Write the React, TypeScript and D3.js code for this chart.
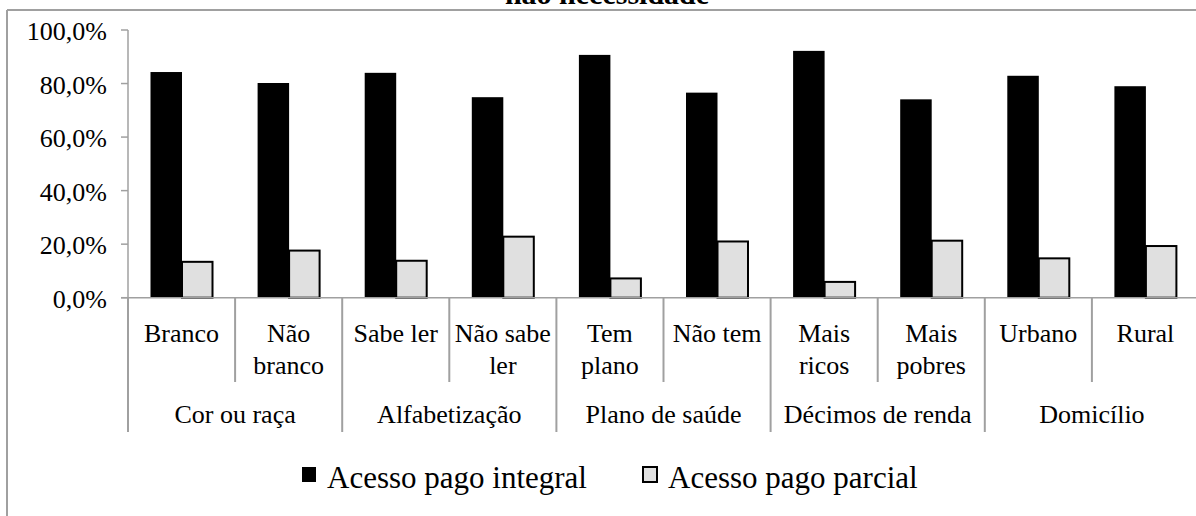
import * as d3 from "d3";
import { useEffect, useRef } from "react";

const categories = ["Branco", "Não branco", "Sabe ler", "Não sabe ler", "Tem plano", "Não tem", "Mais ricos", "Mais pobres", "Urbano", "Rural"];
const categoryLines = [["Branco"], ["Não", "branco"], ["Sabe ler"], ["Não sabe", "ler"], ["Tem", "plano"], ["Não tem"], ["Mais", "ricos"], ["Mais", "pobres"], ["Urbano"], ["Rural"]];
const groups = ["Cor ou raça", "Alfabetização", "Plano de saúde", "Décimos de renda", "Domicílio"];
const seriesNames = ["Acesso pago integral", "Acesso pago parcial"];
const integral = [84.3, 80.2, 84.0, 74.9, 90.7, 76.6, 92.2, 74.1, 82.9, 79.0];
const parcial = [13.4, 17.6, 13.8, 22.8, 7.2, 21.0, 5.9, 21.3, 14.7, 19.3];
const yTicks = [0, 20, 40, 60, 80, 100];
const titleText = "não necessidade";

const FONT = "Liberation Serif, DejaVu Serif, serif";

export default function App() {
	const ref = useRef<SVGSVGElement>(null);

	useEffect(() => {
		const svg = d3.select(ref.current);
		svg.selectAll("*").remove();

		const left = 128;
		const catW = 107.1;
		const top = 30;
		const bottom = 297.7;

		const x = d3
			.scaleBand<string>()
			.domain(categories)
			.range([left, left + catW * categories.length])
			.padding(0);
		const x1 = d3.scaleBand<string>().domain(seriesNames).range([22.5, 85.5]).padding(0);
		const y = d3.scaleLinear().domain([0, 100]).range([bottom, top]);

		const gray = "#a0a0a0";

		const root = svg.append("g").style("font-family", FONT);

		// frame (top and left edges visible)
		root.append("line").attr("x1", 7).attr("x2", 1196).attr("y1", 10).attr("y2", 10).attr("stroke", gray).attr("stroke-width", 2);
		root.append("line").attr("x1", 7).attr("x2", 7).attr("y1", 10).attr("y2", 516).attr("stroke", gray).attr("stroke-width", 2);

		// title (second line, partly cut off like the original)
		root.append("text")
			.attr("x", 607)
			.attr("y", 4)
			.attr("text-anchor", "middle")
			.attr("font-weight", "bold")
			.attr("font-size", 30)
			.text(titleText);

		// y axis
		root.append("line").attr("x1", left).attr("x2", left).attr("y1", y(100)).attr("y2", bottom).attr("stroke", gray).attr("stroke-width", 1.5);
		yTicks.forEach((t) => {
			root.append("line").attr("x1", left - 7).attr("x2", left).attr("y1", y(t)).attr("y2", y(t)).attr("stroke", gray).attr("stroke-width", 1.5);
			root.append("text")
				.attr("x", 107)
				.attr("y", y(t) + 10)
				.attr("text-anchor", "end")
				.attr("font-size", 26)
				.text(d3.format(".1f")(t).replace(".", ",") + "%");
		});

		// bars
		categories.forEach((c, i) => {
			const x0 = x(c)!;
			root.append("rect")
				.attr("x", x0 + x1(seriesNames[0])!)
				.attr("y", y(integral[i]))
				.attr("width", x1.bandwidth())
				.attr("height", bottom - y(integral[i]))
				.attr("fill", "#000");
			root.append("rect")
				.attr("x", x0 + x1(seriesNames[1])!)
				.attr("y", y(parcial[i]))
				.attr("width", x1.bandwidth() - 1)
				.attr("height", bottom - y(parcial[i]))
				.attr("fill", "#e0e0e0")
				.attr("stroke", "#000")
				.attr("stroke-width", 2);
		});

		// x axis with two-level category separators
		root.append("line").attr("x1", left - 7).attr("x2", left + catW * 10).attr("y1", bottom).attr("y2", bottom).attr("stroke", gray).attr("stroke-width", 1.5);
		for (let i = 0; i <= categories.length; i += 1) {
			const xx = left + catW * i;
			root.append("line")
				.attr("x1", xx).attr("x2", xx)
				.attr("y1", bottom)
				.attr("y2", i % 2 === 0 ? 432 : 382)
				.attr("stroke", gray)
				.attr("stroke-width", 2);
		}

		categories.forEach((c, i) => {
			const cx = x(c)! + x.bandwidth() / 2;
			categoryLines[i].forEach((line, j) => {
				root.append("text")
					.attr("x", cx)
					.attr("y", 342 + j * 31.5)
					.attr("text-anchor", "middle")
					.attr("font-size", 26)
					.text(line);
			});
		});

		groups.forEach((g, i) => {
			root.append("text")
				.attr("x", left + catW * (2 * i + 1))
				.attr("y", 423)
				.attr("text-anchor", "middle")
				.attr("font-size", 26)
				.text(g);
		});

		// legend
		const legendX = [302, 643];
		const legendFill = ["#000", "#e0e0e0"];
		seriesNames.forEach((s, i) => {
			root.append("rect")
				.attr("x", legendX[i])
				.attr("y", 467)
				.attr("width", 14)
				.attr("height", 15)
				.attr("fill", legendFill[i])
				.attr("stroke", "#000")
				.attr("stroke-width", i === 0 ? 0 : 2);
			root.append("text")
				.attr("x", legendX[i] + 25)
				.attr("y", 488)
				.attr("font-size", 31)
				.text(s);
		});
	}, []);

	return (
		<svg
			ref={ref}
			width={1196}
			height={516}
			style={{ position: "absolute", left: 0, top: 0, background: "#fff" }}
		/>
	);
}
